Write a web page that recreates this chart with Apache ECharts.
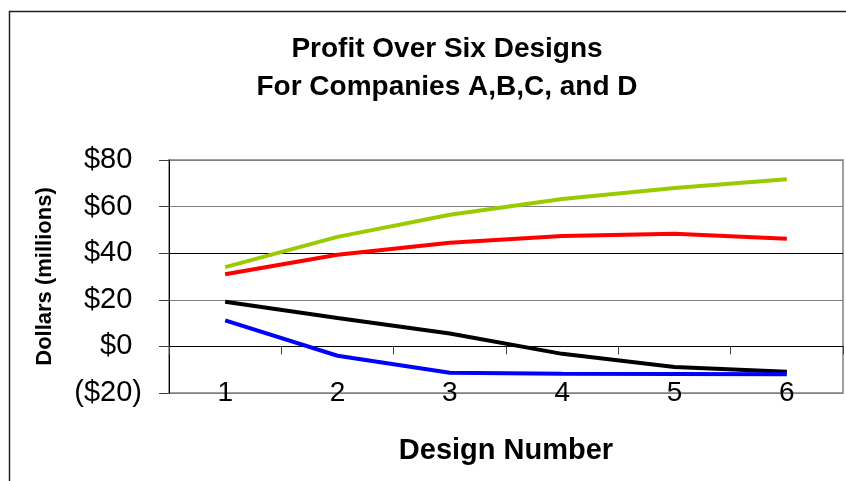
<!DOCTYPE html>
<html>
<head>
<meta charset="utf-8">
<script src="https://cdn.jsdelivr.net/npm/echarts@6/dist/echarts.min.js"></script>
<style>
  html, body { margin: 0; padding: 0; background: #fff; }
  #main { width: 846px; height: 481px; }
</style>
</head>
<body>
<div id="main"></div>
<script>
// profit line chart, four companies over six designs

var designs = ['1', '2', '3', '4', '5', '6'];
var greenLine = [34, 47, 56.5, 63.3, 68, 71.7];
var redLine = [31, 39.3, 44.5, 47.4, 48.4, 46.2];
var blackLine = [19.2, 12.2, 5.5, -3.2, -8.8, -10.9];
var blueLine = [11.2, -4, -11.3, -11.7, -11.8, -12];

var myChart = echarts.init(document.getElementById('main'));
var font = 'Liberation Sans, Arial, sans-serif';

function mkLine(name, color, data) {
    return {
        name: name,
        type: 'line',
        xAxisIndex: 0,
        data: data,
        symbol: 'none',
        lineStyle: { color: color, width: 4 },
        itemStyle: { color: color }
    };
}

var option = {
    animation: false,
    textStyle: { fontFamily: font },
    title: {
        text: 'Profit Over Six Designs\nFor Companies A,B,C, and D',
        left: 442,
        top: 25,
        textAlign: 'center',
        textStyle: {
            fontFamily: font,
            fontSize: 28,
            fontWeight: 'bold',
            color: '#000',
            lineHeight: 38
        }
    },
    graphic: [{
        type: 'rect',
        shape: { x: 9.5, y: 11.5, width: 1000, height: 1000 },
        style: { fill: 'none', stroke: '#222', lineWidth: 1.5 },
        silent: true
    }],
    grid: {
        left: 169,
        right: 3,
        top: 160,
        bottom: 88,
        show: true,
        borderColor: '#808080',
        borderWidth: 1.5
    },
    xAxis: [{
        // zero line with ticks between designs
        type: 'category',
        data: designs,
        position: 'bottom',
        axisLine: { onZero: true, lineStyle: { color: '#000', width: 1 } },
        axisTick: { show: true, length: 8, lineStyle: { color: '#404040' } },
        axisLabel: { show: false },
        splitLine: { show: false }
    }, {
        type: 'category',
        data: designs,
        position: 'bottom',
        axisLine: { show: false, onZero: false },
        axisTick: { show: false },
        axisLabel: { margin: -14, fontSize: 28, color: '#000', fontFamily: font },
        name: 'Design Number',
        nameLocation: 'middle',
        nameGap: 43,
        nameTextStyle: { fontSize: 29, fontWeight: 'bold', color: '#000', fontFamily: font }
    }],
    yAxis: {
        type: 'value',
        min: -20,
        max: 80,
        interval: 20,
        name: 'Dollars (millions)',
        nameLocation: 'middle',
        nameGap: 113,
        nameTextStyle: { fontSize: 22, fontWeight: 'bold', color: '#000', fontFamily: font },
        axisLine: { show: true, lineStyle: { color: '#000', width: 1 } },
        axisTick: { show: true, length: 10, lineStyle: { color: '#404040' } },
        axisLabel: {
            margin: 27,
            fontSize: 29,
            color: '#000',
            fontFamily: font,
            formatter: function (v) {
                if (v < 0) return '($' + (-v) + ')';
                return '$' + v + '{h|)}';
            },
            rich: { h: { fontSize: 29, color: 'rgba(0,0,0,0)', fontFamily: font } }
        },
        splitLine: {
            show: true,
            lineStyle: {
                color: ['#808080', '#000', '#808080', '#000', '#808080', '#808080'],
                width: 1
            }
        }
    },
    series: [
        mkLine('Company A', '#99cc00', greenLine),
        mkLine('Company B', '#ff0000', redLine),
        mkLine('Company C', '#000000', blackLine),
        mkLine('Company D', '#0000ff', blueLine)
    ]
};

myChart.setOption(option);
</script>
</body>
</html>
